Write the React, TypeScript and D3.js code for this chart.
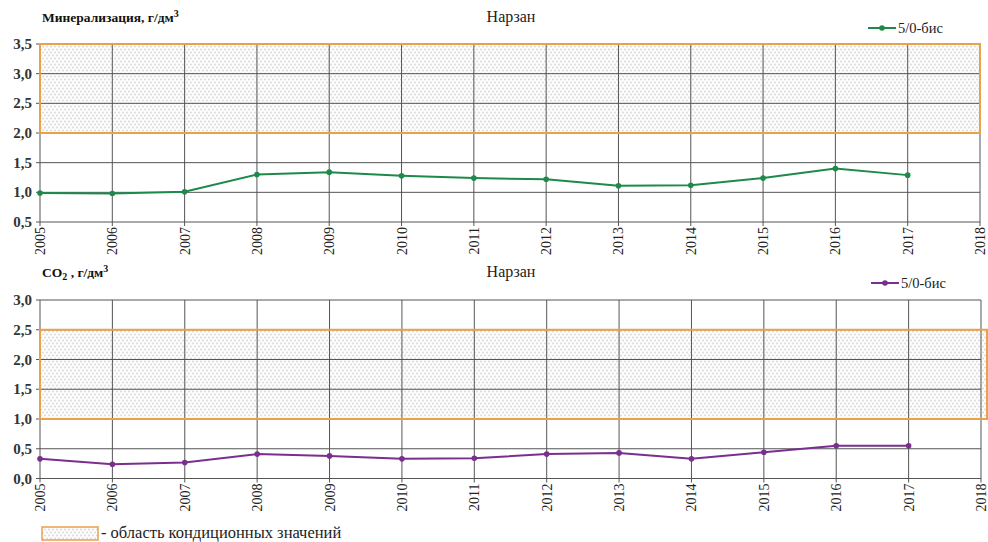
import React from "react";
import * as d3 from "d3";

const years = [2005, 2006, 2007, 2008, 2009, 2010, 2011, 2012, 2013, 2014, 2015, 2016, 2017];
const axisYears = [2005, 2006, 2007, 2008, 2009, 2010, 2011, 2012, 2013, 2014, 2015, 2016, 2017, 2018];
const mineralization = [0.99, 0.98, 1.01, 1.3, 1.34, 1.28, 1.24, 1.22, 1.11, 1.12, 1.24, 1.4, 1.29];
const co2 = [0.33, 0.24, 0.27, 0.41, 0.38, 0.33, 0.34, 0.41, 0.43, 0.33, 0.44, 0.55, 0.55];
const mineralTicks = [0.5, 1.0, 1.5, 2.0, 2.5, 3.0, 3.5];
const co2Ticks = [0.0, 0.5, 1.0, 1.5, 2.0, 2.5, 3.0];
const mineralRange = [2.0, 3.5];
const co2Range = [1.0, 2.5];
const stationName = "5/0-бис";
const siteName = "Нарзан";

const SERIF = "Liberation Serif, Times New Roman, DejaVu Serif, serif";
const GRID = "#555";
const ORANGE = "#e9a24a";

type PanelProps = {
  values: number[];
  ticks: number[];
  band: number[];
  color: string;
  top: number;
  bottom: number;
  right: number;
  bandRight: number;
  title: React.ReactNode;
  legendX: number;
  legendY: number;
  titleY: number;
};

const serif = (size: number, bold = false): React.CSSProperties => ({
  fontFamily: SERIF,
  fontSize: size,
  fontWeight: bold ? 700 : 400,
});

function Panel(p: PanelProps) {
  const x = d3.scaleLinear().domain([2005, 2018]).range([40, p.right]);
  const y = d3
    .scaleLinear()
    .domain([d3.min(p.ticks)!, d3.max(p.ticks)!])
    .range([p.bottom, p.top]);
  const line = d3
    .line<number>()
    .x((_, i) => x(years[i]))
    .y((d) => y(d));
  const fmt = (v: number) => v.toFixed(1).replace(".", ",");
  return (
    <g>
      {/* band of acceptable values */}
      <rect
        x={x(2005)}
        y={y(p.band[1])}
        width={p.bandRight - x(2005)}
        height={y(p.band[0]) - y(p.band[1])}
        fill="url(#dots)"
      />
      {/* grid */}
      {p.ticks.map((t) => (
        <line key={"h" + t} x1={x(2005) - 4} x2={p.right} y1={y(t)} y2={y(t)} stroke={GRID} strokeWidth={1} />
      ))}
      {axisYears.map((yr) => (
        <line key={"v" + yr} x1={x(yr)} x2={x(yr)} y1={p.top} y2={p.bottom + 4} stroke={GRID} strokeWidth={1} />
      ))}
      <rect
        x={x(2005)}
        y={y(p.band[1])}
        width={p.bandRight - x(2005)}
        height={y(p.band[0]) - y(p.band[1])}
        fill="none"
        stroke={ORANGE}
        strokeWidth={2}
      />
      {/* y tick labels */}
      {p.ticks.map((t) => (
        <text key={"yl" + t} x={32} y={y(t) + 5} textAnchor="end" style={serif(15, true)} fill="#333">
          {fmt(t)}
        </text>
      ))}
      {/* x tick labels */}
      {axisYears.map((yr) => (
        <text
          key={"xl" + yr}
          transform={`translate(${x(yr) + 5},${p.bottom + 5}) rotate(-90)`}
          textAnchor="end"
          style={serif(14)}
          fill="#222"
        >
          {yr}
        </text>
      ))}
      {/* series */}
      <path d={line(p.values) ?? ""} fill="none" stroke={p.color} strokeWidth={2} />
      {p.values.map((v, i) => (
        <circle key={"pt" + i} cx={x(years[i])} cy={y(v)} r={2.8} fill={p.color} />
      ))}
      {/* titles */}
      <text x={42} y={p.titleY} style={serif(13.5, true)} fill="#111">
        {p.title}
      </text>
      <text x={511} y={p.titleY} textAnchor="middle" style={serif(16)} fill="#222">
        {siteName}
      </text>
      {/* legend */}
      <line x1={p.legendX} x2={p.legendX + 28} y1={p.legendY} y2={p.legendY} stroke={p.color} strokeWidth={2} />
      <circle cx={p.legendX + 14} cy={p.legendY} r={2.8} fill={p.color} />
      <text x={p.legendX + 30} y={p.legendY + 5} style={serif(14.5)} fill="#222">
        {stationName}
      </text>
    </g>
  );
}

export default function App() {
  return (
    <svg
      width={988}
      height={542}
      style={{ position: "absolute", left: 0, top: 0, background: "#fff" }}
    >
      <defs>
        <pattern id="dots" width={4} height={6} patternUnits="userSpaceOnUse">
          <rect width={4} height={6} fill="#fdfdfd" />
          <ellipse cx={1} cy={1.5} rx={0.7} ry={1.1} fill="#cbcbcb" />
          <ellipse cx={3} cy={4.5} rx={0.7} ry={1.1} fill="#cbcbcb" />
        </pattern>
      </defs>
      <Panel
        values={mineralization}
        ticks={mineralTicks}
        band={mineralRange}
        color="#1d8a4c"
        top={44}
        bottom={222}
        right={980}
        bandRight={980}
        titleY={22}
        legendX={868}
        legendY={28}
        title={
          <>
            Минерализация, г/дм<tspan fontSize={10} dy={-5}>3</tspan>
          </>
        }
      />
      <Panel
        values={co2}
        ticks={co2Ticks}
        band={co2Range}
        color="#7a2f8f"
        top={300}
        bottom={478.5}
        right={981}
        bandRight={987}
        titleY={277}
        legendX={871}
        legendY={283}
        title={
          <>
            CO<tspan fontSize={10} dy={3}>2</tspan>
            <tspan dy={-3}> , г/дм</tspan>
            <tspan fontSize={10} dy={-5}>3</tspan>
          </>
        }
      />
      {/* key for the shaded band */}
      <rect x={42} y={527} width={56} height={13} fill="url(#dots)" stroke={ORANGE} strokeWidth={1.5} />
      <text x={101} y={538} style={serif(16.5)} fill="#222">
        - область кондиционных значений
      </text>
    </svg>
  );
}
